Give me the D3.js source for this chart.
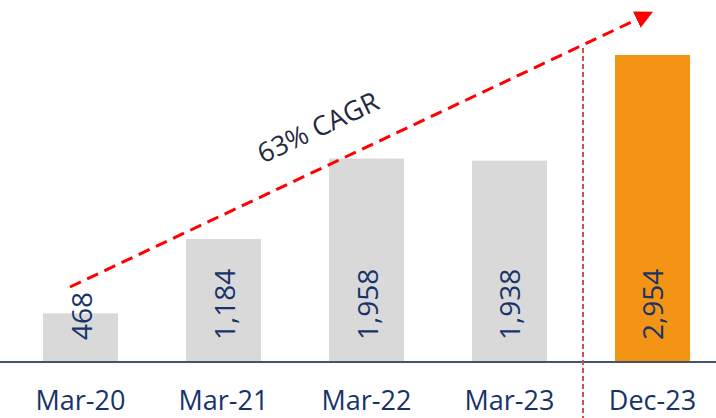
<!DOCTYPE html>
<meta charset="utf-8">
<style>
body { margin: 0; background: #fff; }
text { font-family: "Open Sans", sans-serif; }
</style>
<body>
<svg id="chart" width="716" height="418"></svg>
<script src="https://cdnjs.cloudflare.com/ajax/libs/d3/7.8.5/d3.min.js"></script>
<script>
var periods = ["Mar-20", "Mar-21", "Mar-22", "Mar-23", "Dec-23"];
var values = [468, 1184, 1958, 1938, 2954];
var valueLabels = ["468", "1,184", "1,958", "1,938", "2,954"];
var cagrLabel = "63% CAGR";

var width = 716, height = 418,
    baseY = 362;

var svg = d3.select("#chart");

var x = d3.scaleBand()
    .domain(periods)
    .range([43, 690])
    .paddingInner(0.4755)
    .paddingOuter(0);

var y = d3.scaleLinear()
    .domain([0, 2954])
    .range([baseY, 55]);

// bars
svg.selectAll(".bar")
  .data(values)
  .enter().append("rect")
    .attr("x", function(d, i) { return x(periods[i]); })
    .attr("y", function(d) { return y(d); })
    .attr("width", x.bandwidth())
    .attr("height", function(d) { return baseY - y(d); })
    .attr("fill", function(d, i) { return i == 4 ? "#F39414" : "#D9D9D9"; });

// value labels, rotated
svg.selectAll(".val")
  .data(valueLabels)
  .enter().append("text")
    .attr("transform", function(d, i) {
      return "translate(" + (x(periods[i]) + x.bandwidth() / 2 + 11) + "," + (baseY - 22) + ") rotate(-90)";
    })
    .attr("fill", "#17336A")
    .style("font-size", "28px")
    .text(function(d) { return d; });

// baseline
svg.append("line")
    .attr("x1", 0).attr("x2", width)
    .attr("y1", baseY).attr("y2", baseY)
    .attr("stroke", "#44546A")
    .attr("stroke-width", 2);

// category labels
svg.selectAll(".cat")
  .data(periods)
  .enter().append("text")
    .attr("x", function(d) { return x(d) + x.bandwidth() / 2; })
    .attr("y", 410)
    .attr("text-anchor", "middle")
    .attr("fill", "#17336A")
    .style("font-size", "27px")
    .text(function(d) { return d; });

// separator before Dec-23
var sepX = (x("Mar-23") + x.bandwidth() + x("Dec-23")) / 2 + 2;
svg.append("line")
    .attr("x1", sepX).attr("x2", sepX)
    .attr("y1", 48).attr("y2", height)
    .attr("stroke", "#D05050")
    .attr("stroke-width", 2)
    .attr("stroke-dasharray", "5,3");

// CAGR arrow
var defs = svg.append("defs");
defs.append("marker")
    .attr("id", "head")
    .attr("viewBox", "0 0 10 10")
    .attr("refX", 2).attr("refY", 5)
    .attr("markerWidth", 6).attr("markerHeight", 6)
    .attr("markerUnits", "strokeWidth")
    .attr("orient", "auto")
  .append("path")
    .attr("d", "M0,0 L10,5 L0,10 Z")
    .attr("fill", "#FF0000");

var a0 = [70, 287], a1 = [640, 18];
svg.append("line")
    .attr("x1", a0[0]).attr("y1", a0[1])
    .attr("x2", a1[0]).attr("y2", a1[1])
    .attr("stroke", "#FF0000")
    .attr("stroke-width", 3)
    .attr("stroke-dasharray", "12,7")
    .attr("marker-end", "url(#head)");

var ang = Math.atan2(a1[1] - a0[1], a1[0] - a0[0]) * 180 / Math.PI;
svg.append("text")
    .attr("transform", "translate(322,136) rotate(" + ang + ")")
    .attr("text-anchor", "middle")
    .attr("fill", "#222A3F")
    .style("font-size", "27px")
    .text(cagrLabel);
</script>
</body>
